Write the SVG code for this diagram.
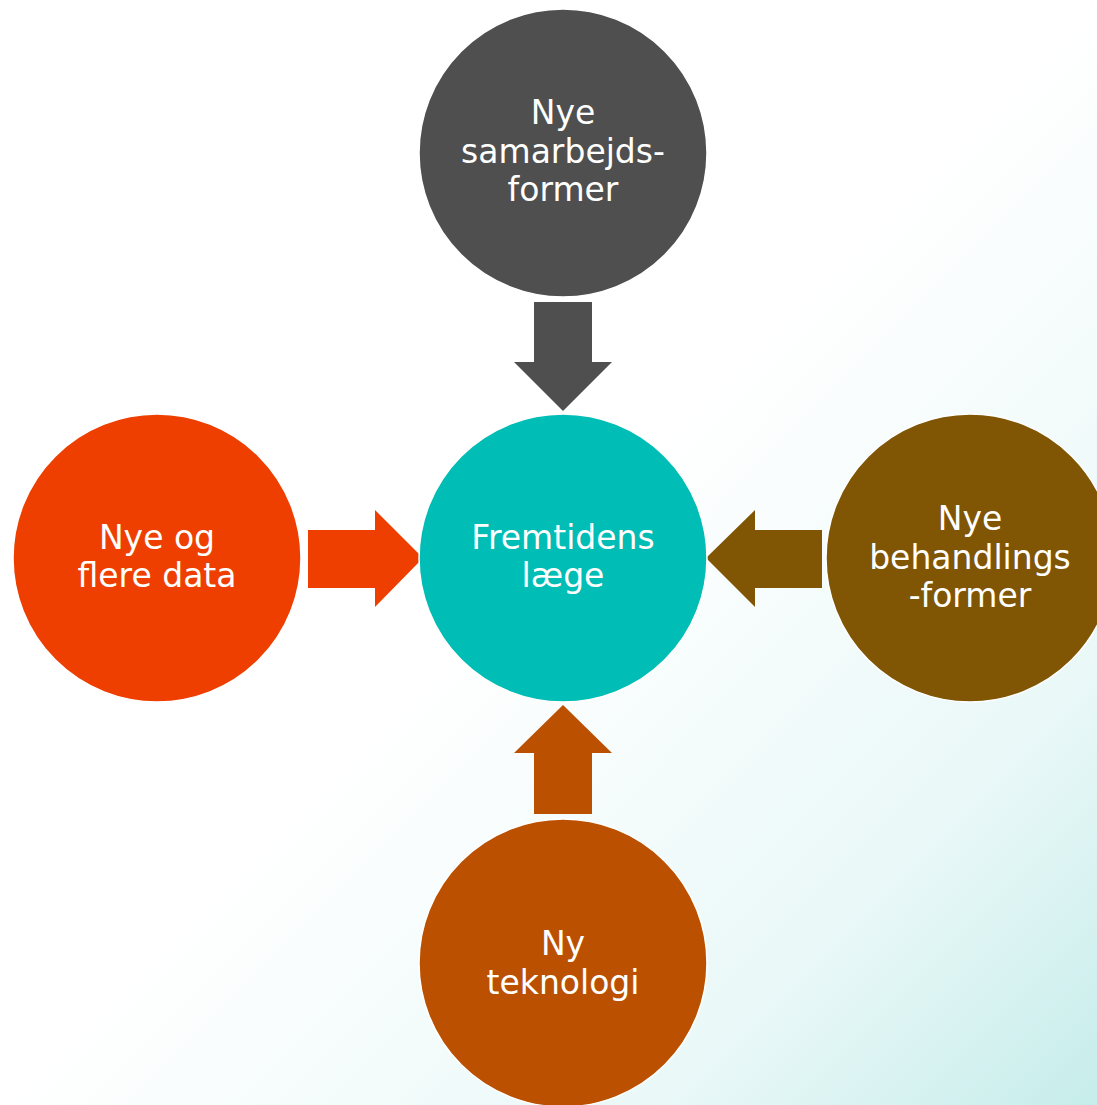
<svg xmlns="http://www.w3.org/2000/svg" width="1097" height="1105" viewBox="0 0 1097 1105">
<defs>
<linearGradient id="bg" x1="0" y1="0" x2="1" y2="1">
<stop offset="0.5" stop-color="#ffffff"/>
<stop offset="0.8" stop-color="#eaf8f8"/>
<stop offset="1" stop-color="#c6edeb"/>
</linearGradient>
<style>
.lbl{font-family:"DejaVu Sans","Verdana",sans-serif;font-size:33px;fill:#ffffff;text-anchor:middle}
.c{stroke:#ffffff;stroke-width:1.5}
</style>
</defs>
<rect x="0" y="0" width="1097" height="1105" fill="url(#bg)"/>
<g id="connectors">
<polygon points="534,302 592,302 592,362 612,362 563,411 514,362 534,362" fill="#4f4f4f"/>
<polygon points="308,530 375,530 375,510 423,558 375,607 375,588 308,588" fill="#ee3f00"/>
<polygon points="822,530 755,530 755,510 706,558 755,607 755,588 822,588" fill="#805504"/>
<polygon points="534,814 592,814 592,753 612,753 563,705 514,753 534,753" fill="#ba5000"/>
</g>
<g id="node-top">
<circle class="c" cx="563" cy="153" r="144" fill="#4f4f4f"/>
<text class="lbl" x="563" y="124">Nye</text>
<text class="lbl" x="563" y="163">samarbejds-</text>
<text class="lbl" x="563" y="201">former</text>
</g>
<g id="node-center">
<circle class="c" cx="563" cy="558" r="144" fill="#00bdb5"/>
<text class="lbl" x="563" y="549">Fremtidens</text>
<text class="lbl" x="563" y="587">læge</text>
</g>
<g id="node-left">
<circle class="c" cx="157" cy="558" r="144" fill="#ee3f00"/>
<text class="lbl" x="157" y="549">Nye og</text>
<text class="lbl" x="157" y="587">flere data</text>
</g>
<g id="node-right">
<circle class="c" cx="970" cy="558" r="144" fill="#805504"/>
<text class="lbl" x="970" y="530">Nye</text>
<text class="lbl" x="970" y="569">behandlings</text>
<text class="lbl" x="970" y="607">-former</text>
</g>
<g id="node-bottom">
<circle class="c" cx="563" cy="963" r="144" fill="#ba5000"/>
<text class="lbl" x="563" y="955">Ny</text>
<text class="lbl" x="563" y="994">teknologi</text>
</g>
</svg>
